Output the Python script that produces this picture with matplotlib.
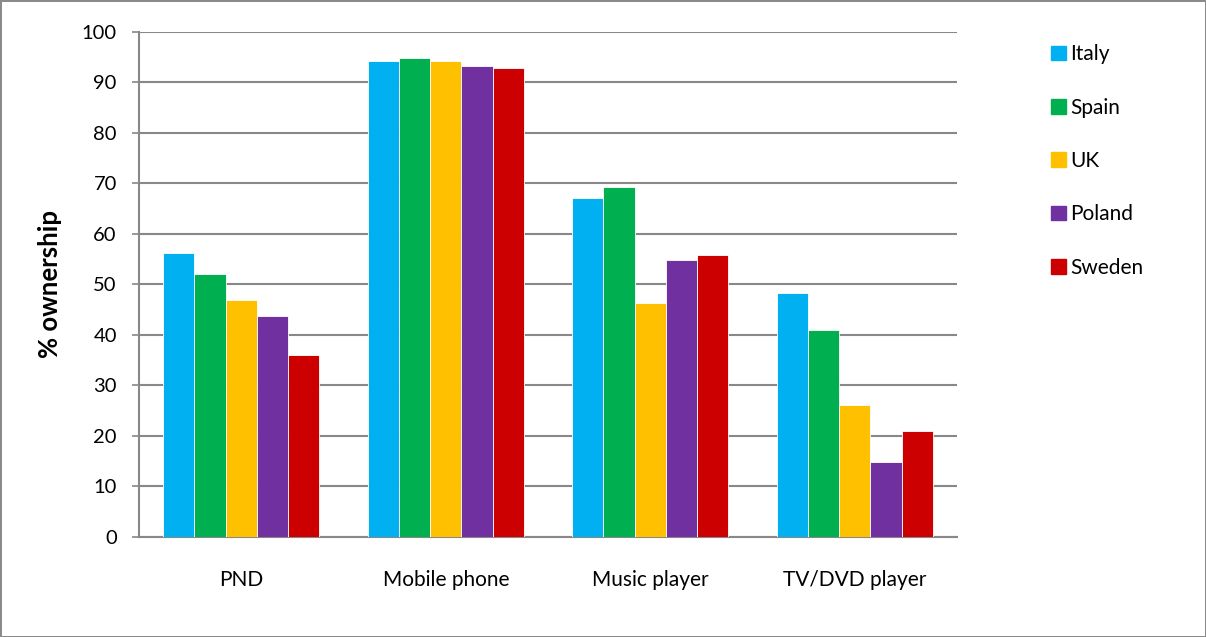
import numpy as np
import matplotlib.pyplot as plt
from matplotlib.patches import Patch

plt.rcParams['font.family'] = ['Lato', 'DejaVu Sans']

categories = ['PND', 'Mobile phone', 'Music player', 'TV/DVD player']
countries = ['Italy', 'Spain', 'UK', 'Poland', 'Sweden']
colors = ['#00B0F0', '#00B050', '#FFC000', '#7030A0', '#CC0000']

italy = [56.2, 94.2, 67.2, 48.4]
spain = [52.0, 94.9, 69.3, 41.0]
uk = [47.0, 94.2, 46.3, 26.1]
poland = [43.8, 93.2, 54.8, 14.8]
sweden = [36.0, 92.8, 55.9, 20.9]
series = [italy, spain, uk, poland, sweden]

fig = plt.figure(figsize=(12.06, 6.37), dpi=100)
fig.patch.set_edgecolor('#8a8a8a')
fig.patch.set_linewidth(2)
ax = fig.add_axes([0.1153, 0.157, 0.6782, 0.7928])

x = np.arange(len(categories))
w = 0.763 / 5
for i, (vals, c) in enumerate(zip(series, colors)):
    ax.bar(x + (i - 2) * w, vals, w, color=c, edgecolor='white', linewidth=0.6,
           label=countries[i], zorder=3)

ax.set_xlim(-0.5, 3.5)
ax.set_ylim(0, 100)
ax.set_yticks(range(0, 101, 10))
ax.set_xticks(x)
ax.set_xticklabels(categories)
ax.yaxis.grid(True, color='#888888', linewidth=1.5, zorder=0)
ax.tick_params(axis='y', length=5, width=1.2, color='#888888', pad=11, labelsize=14.5)
ax.tick_params(axis='x', length=0, pad=24, labelsize=15)
for s in ['top', 'right']:
    ax.spines[s].set_visible(False)
ax.spines['left'].set_color('#888888')
ax.spines['left'].set_linewidth(1.5)
ax.spines['bottom'].set_color('#888888')
ax.spines['bottom'].set_linewidth(1.5)
ax.set_ylabel('% ownership', fontsize=18.5, fontweight='bold', labelpad=14)

handles = [Patch(color=c) for c in colors]
fig.legend(handles, countries, loc='upper left', bbox_to_anchor=(0.856, 0.96),
           frameon=False, fontsize=15, handlelength=0.7, handleheight=0.7,
           handletextpad=0.2, labelspacing=1.6)

fig.savefig('out.png', dpi=100)
